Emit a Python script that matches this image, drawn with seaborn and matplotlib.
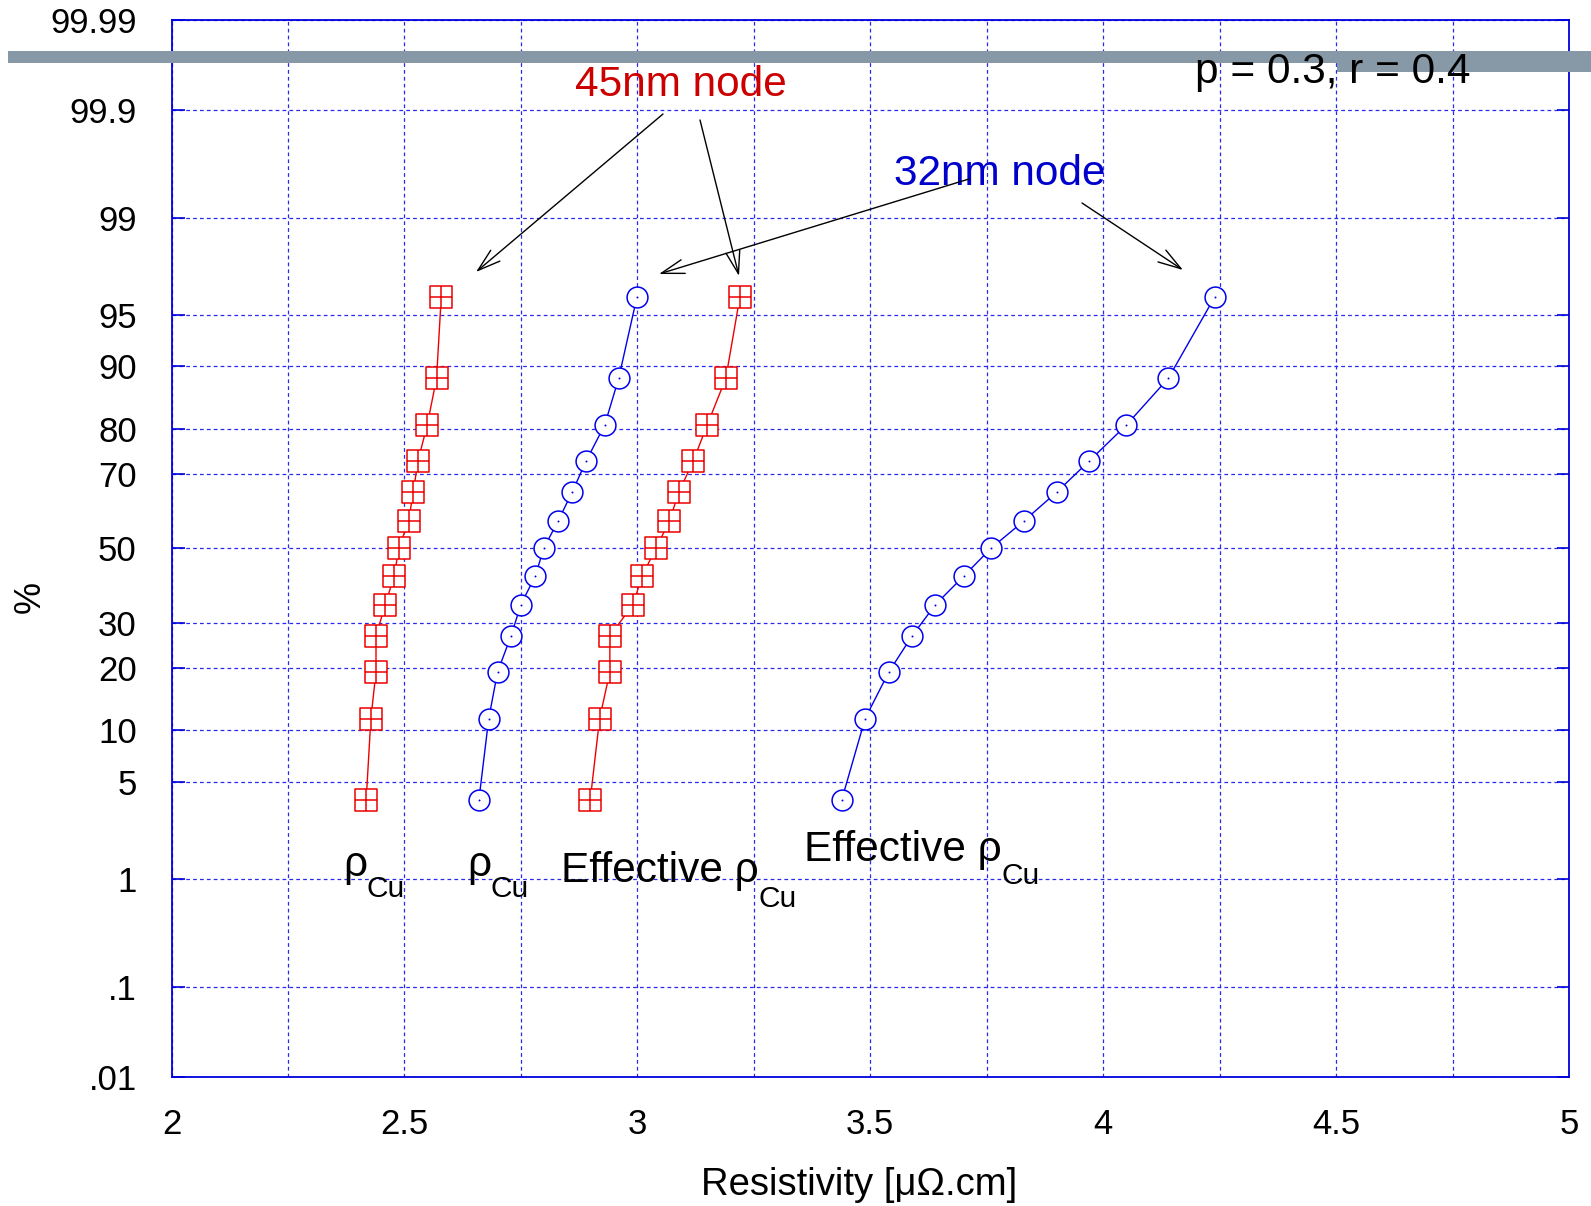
import math
import numpy as np
import matplotlib
matplotlib.use("Agg")
import matplotlib.pyplot as plt
import seaborn as sns
from matplotlib.path import Path
from matplotlib.patches import Rectangle, FancyArrowPatch
from matplotlib.ticker import MultipleLocator, FixedLocator, FixedFormatter

# ---------------- data ----------------
cum_pct = [3.85, 11.54, 19.23, 26.92, 34.62, 42.31, 50.0, 57.69, 65.38, 73.08, 80.77, 88.46, 96.15]
rho_45 = [2.418, 2.428, 2.439, 2.439, 2.459, 2.478, 2.488, 2.509, 2.519, 2.529, 2.549, 2.569, 2.579]
rho_32 = [2.660, 2.681, 2.700, 2.729, 2.750, 2.781, 2.799, 2.830, 2.860, 2.890, 2.930, 2.960, 2.999]
eff_45 = [2.899, 2.919, 2.941, 2.941, 2.991, 3.010, 3.040, 3.069, 3.089, 3.120, 3.150, 3.190, 3.220]
eff_32 = [3.439, 3.489, 3.540, 3.590, 3.640, 3.701, 3.759, 3.830, 3.900, 3.970, 4.050, 4.140, 4.239]

y_ticks = [0.01, 0.1, 1, 5, 10, 20, 30, 50, 70, 80, 90, 95, 99, 99.9, 99.99]
y_labels = ['.01', '.1', '1', '5', '10', '20', '30', '50', '70', '80', '90', '95', '99', '99.9', '99.99']
x_ticks = [2, 2.5, 3, 3.5, 4, 4.5, 5]
x_labels = ['2', '2.5', '3', '3.5', '4', '4.5', '5']

# ---------------- probability (probit) scale ----------------
_a = [-3.969683028665376e+01, 2.209460984245205e+02, -2.759285104469687e+02,
      1.383577518672690e+02, -3.066479806614716e+01, 2.506628277459239e+00]
_b = [-5.447609879822406e+01, 1.615858368580409e+02, -1.556989798598866e+02,
      6.680131188771972e+01, -1.328068155288572e+01]
_c = [-7.784894002430293e-03, -3.223964580411365e-01, -2.400758277161838e+00,
      -2.549732539343734e+00, 4.374664141464968e+00, 2.938163982698783e+00]
_d = [7.784695709041462e-03, 3.224671290700398e-01, 2.445134137142996e+00,
      3.754408661907416e+00]


def _ppf(p):
    p = np.asarray(p, dtype=float)
    out = np.empty_like(p)
    plow = 0.02425
    lo = p < plow
    hi = p > 1 - plow
    mid = ~(lo | hi)
    q = np.sqrt(-2 * np.log(p[lo]))
    out[lo] = (((((_c[0]*q+_c[1])*q+_c[2])*q+_c[3])*q+_c[4])*q+_c[5]) / \
              ((((_d[0]*q+_d[1])*q+_d[2])*q+_d[3])*q+1)
    q = np.sqrt(-2 * np.log(1 - p[hi]))
    out[hi] = -(((((_c[0]*q+_c[1])*q+_c[2])*q+_c[3])*q+_c[4])*q+_c[5]) / \
               ((((_d[0]*q+_d[1])*q+_d[2])*q+_d[3])*q+1)
    q = p[mid] - 0.5
    r = q * q
    out[mid] = (((((_a[0]*r+_a[1])*r+_a[2])*r+_a[3])*r+_a[4])*r+_a[5])*q / \
               (((((_b[0]*r+_b[1])*r+_b[2])*r+_b[3])*r+_b[4])*r+1)
    return out


_erf = np.vectorize(math.erf, otypes=[float])


def fwd(y):
    p = np.clip(np.asarray(y, dtype=float) / 100.0, 1e-12, 1 - 1e-12)
    return _ppf(p)


def inv(z):
    z = np.asarray(z, dtype=float)
    return 50.0 * (1.0 + _erf(z / math.sqrt(2.0)))


# ---------------- style ----------------
sns.set_style("white")
plt.rcParams['font.family'] = ['Liberation Sans', 'DejaVu Sans']
plt.rcParams['text.color'] = 'black'
plt.rcParams['axes.labelcolor'] = 'black'
plt.rcParams['xtick.color'] = 'black'
plt.rcParams['ytick.color'] = 'black'

W, H = 1591, 1206
fig = plt.figure(figsize=(W / 100, H / 100), dpi=100)


def fx(x):
    return x / W


def fy(y):
    return 1 - y / H


ax_l, ax_r, ax_t, ax_b = 171.5, 1569.0, 20.3, 1076.5
ax = fig.add_axes([fx(ax_l), fy(ax_b), (ax_r - ax_l) / W, (ax_b - ax_t) / H])

RED = '#ee0000'
BLUE = '#0000ee'
GRID = '#2a2aee'

boxplus = Path([(-1, -1), (1, -1), (1, 1), (-1, 1), (-1, -1),
                (0, -1), (0, 1), (-1, 0), (1, 0)],
               [Path.MOVETO, Path.LINETO, Path.LINETO, Path.LINETO, Path.CLOSEPOLY,
                Path.MOVETO, Path.LINETO, Path.MOVETO, Path.LINETO])

for xs, col, mk, ms in [(rho_45, RED, boxplus, 15.5), (eff_45, RED, boxplus, 15.5),
                        (rho_32, BLUE, 'o', 15.0), (eff_32, BLUE, 'o', 15.0)]:
    sns.lineplot(x=xs, y=cum_pct, ax=ax, color=col, lw=1.0, sort=False, estimator=None,
                 marker=mk, markersize=ms, markerfacecolor='white',
                 markeredgecolor=col, markeredgewidth=1.1, zorder=3)
    if mk == 'o':
        sns.scatterplot(x=xs, y=cum_pct, ax=ax, color=col, marker='o', s=2,
                        edgecolor=col, linewidth=0, zorder=4)

ax.set_yscale('function', functions=(fwd, inv))
ax.set_ylim(0.01, 99.99)
ax.set_xlim(2, 5)

ax.yaxis.set_major_locator(FixedLocator(y_ticks))
ax.yaxis.set_major_formatter(FixedFormatter(y_labels))
ax.yaxis.set_minor_locator(FixedLocator([]))
ax.xaxis.set_major_locator(FixedLocator(x_ticks))
ax.xaxis.set_major_formatter(FixedFormatter(x_labels))
ax.xaxis.set_minor_locator(MultipleLocator(0.25))

ax.grid(True, which='both', color=GRID, linestyle=(0, (3, 2.5)), linewidth=0.9)
ax.set_axisbelow(True)
for s in ax.spines.values():
    s.set_color('#0000dd')
    s.set_linewidth(1.3)

ax.tick_params(axis='y', which='major', direction='in', length=9, width=1.2,
               color='#0000dd', labelcolor='black', left=True, right=True,
               labelsize=25, pad=25)
ax.tick_params(axis='x', which='both', length=0, labelsize=25, labelcolor='black', pad=23)

ax.set_xlabel('Resistivity [μΩ.cm]', fontsize=27.5, color='black')
ax.xaxis.set_label_coords((859 - ax_l) / (ax_r - ax_l), (ax_b - 1185) / (ax_b - ax_t))
ax.xaxis.label.set_va('center')
ax.set_ylabel('%', fontsize=26, color='black')
ax.yaxis.set_label_coords((30.5 - ax_l) / (ax_r - ax_l), (ax_b - 596.6) / (ax_b - ax_t))
ax.yaxis.label.set_va('center')

# ---------------- annotations ----------------
BIG = 30.5
fig.text(fx(575), fy(96), '45nm node', color='#cc0000', fontsize=BIG,
         ha='left', va='baseline', zorder=6)
fig.text(fx(894), fy(185), '32nm node', color='#0000cc', fontsize=BIG,
         ha='left', va='baseline', zorder=6)

# curve labels: main part + lowered "Cu" subscript
curve_labels = [('ρ', 343, 876, 366, 897),
                ('ρ', 467, 876, 490, 897),
                ('Effective ρ', 561, 882, 759, 907),
                ('Effective ρ', 804, 861, 1002, 884)]
for main, mx, my, sx, sy in curve_labels:
    fig.text(fx(mx), fy(my), main, fontsize=BIG, ha='left', va='baseline',
             color='black', zorder=6)
    fig.text(fx(sx), fy(sy), 'Cu', fontsize=21.5, ha='left', va='baseline',
             color='black', zorder=6)

arrows = [((663, 114), (476, 272)), ((700, 120), (739, 276)),
          ((969, 179), (659, 274)), ((1082, 203), (1183, 270))]
for (x0, y0), (x1, y1) in arrows:
    fig.add_artist(FancyArrowPatch((fx(x0), fy(y0)), (fx(x1), fy(y1)),
                                   transform=fig.transFigure,
                                   arrowstyle='->,head_length=0.55,head_width=0.17',
                                   mutation_scale=30, lw=1.0, color='black',
                                   shrinkA=0, shrinkB=0, zorder=7))

# gray slide bar over the top of the chart
BAR = '#8798a6'
fig.add_artist(Rectangle((fx(8), fy(63)), (W - 8) / W, 12.3 / H,
                         transform=fig.transFigure, facecolor=BAR, edgecolor='none', zorder=10))
fig.add_artist(Rectangle((fx(1337), fy(71.5)), (W - 1337) / W, 20.8 / H,
                         transform=fig.transFigure, facecolor=BAR, edgecolor='none', zorder=10))

fig.text(fx(1195), fy(83), 'p = 0.3, r = 0.4', color='black', fontsize=BIG,
         ha='left', va='baseline', zorder=11)

fig.savefig('out.png', dpi=100, facecolor='white')
